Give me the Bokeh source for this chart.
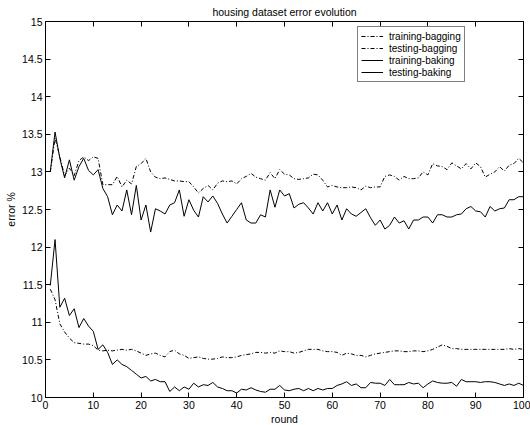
from bokeh.plotting import figure
from bokeh.models import (Range1d, FixedTicker, LinearAxis, Legend, LegendItem,
                          ColumnDataSource)
from bokeh.embed import file_html
from bokeh.resources import INLINE

title_text = "housing dataset error evolution"
x_label = "round"
y_label = "error %"

rounds = list(range(1, 101))

training_bagging = [
    11.44, 11.30, 10.98, 10.87, 10.79, 10.73, 10.72, 10.71, 10.71, 10.69,
    10.63, 10.62, 10.63, 10.62, 10.63, 10.64, 10.63, 10.64, 10.62, 10.59,
    10.56, 10.58, 10.59, 10.56, 10.54, 10.61, 10.63, 10.58, 10.56, 10.52,
    10.53, 10.54, 10.52, 10.51, 10.51, 10.52, 10.54, 10.53, 10.53, 10.54,
    10.56, 10.57, 10.58, 10.60, 10.60, 10.59, 10.60, 10.59, 10.62, 10.61,
    10.61, 10.59, 10.60, 10.62, 10.64, 10.64, 10.64, 10.62, 10.61, 10.61,
    10.60, 10.56, 10.59, 10.58, 10.56, 10.56, 10.54, 10.56, 10.58, 10.59,
    10.60, 10.61, 10.62, 10.62, 10.61, 10.61, 10.62, 10.62, 10.61, 10.62,
    10.64, 10.67, 10.70, 10.68, 10.65, 10.65, 10.64, 10.64, 10.64, 10.64,
    10.64, 10.64, 10.64, 10.64, 10.64, 10.64, 10.65, 10.64, 10.65, 10.64,
]

testing_bagging = [
    13.00, 13.45, 13.20, 12.95, 13.05, 12.95, 13.15, 13.20, 13.15, 13.20,
    13.18, 12.83, 12.83, 12.83, 12.94, 12.80, 12.89, 12.84, 13.07, 13.11,
    13.18, 13.00, 12.93, 12.91, 12.92, 12.90, 12.88, 12.88, 12.87, 12.87,
    12.80, 12.72, 12.78, 12.82, 12.76, 12.85, 12.88, 12.87, 12.88, 12.84,
    12.91, 12.94, 12.98, 12.93, 12.91, 12.89, 12.99, 12.91, 13.03, 12.97,
    12.96, 12.91, 12.90, 12.91, 12.92, 12.97, 12.96, 12.89, 12.80, 12.82,
    12.80, 12.79, 12.79, 12.80, 12.79, 12.76, 12.81, 12.79, 12.80, 12.80,
    12.94, 12.96, 12.94, 12.89, 12.94, 12.91, 12.91, 12.92, 13.00, 12.96,
    13.11, 13.08, 13.07, 13.03, 13.12, 13.08, 13.04, 13.11, 13.04, 13.12,
    13.07, 12.93, 12.97, 13.00, 13.07, 13.01, 13.09, 13.11, 13.18, 13.12,
]

training_baking = [
    11.49, 12.10, 11.20, 11.32, 11.09, 11.18, 10.93, 11.05, 10.95, 10.88,
    10.64, 10.70, 10.60, 10.44, 10.50, 10.44, 10.41, 10.36, 10.31, 10.26,
    10.28, 10.22, 10.24, 10.21, 10.21, 10.08, 10.14, 10.09, 10.14, 10.11,
    10.19, 10.14, 10.17, 10.16, 10.20, 10.14, 10.12, 10.09, 10.09, 10.06,
    10.11, 10.10, 10.13, 10.10, 10.08, 10.07, 10.11, 10.11, 10.16, 10.10,
    10.09, 10.11, 10.12, 10.09, 10.12, 10.09, 10.12, 10.10, 10.12, 10.12,
    10.16, 10.18, 10.21, 10.16, 10.18, 10.13, 10.13, 10.20, 10.19, 10.19,
    10.16, 10.24, 10.17, 10.17, 10.17, 10.20, 10.18, 10.19, 10.13, 10.18,
    10.22, 10.20, 10.19, 10.19, 10.20, 10.15, 10.24, 10.21, 10.21, 10.21,
    10.20, 10.21, 10.21, 10.20, 10.18, 10.16, 10.18, 10.16, 10.19, 10.16,
]

testing_baking = [
    13.00, 13.53, 13.18, 12.92, 13.16, 12.89, 13.07, 13.18, 13.02, 12.96,
    13.03, 12.78, 12.67, 12.43, 12.56, 12.48, 12.76, 12.43, 12.82, 12.36,
    12.56, 12.20, 12.51, 12.48, 12.44, 12.56, 12.59, 12.76, 12.41, 12.63,
    12.49, 12.40, 12.67, 12.60, 12.68, 12.58, 12.44, 12.32, 12.41, 12.50,
    12.59, 12.36, 12.32, 12.32, 12.43, 12.40, 12.76, 12.53, 12.76, 12.68,
    12.71, 12.52, 12.57, 12.59, 12.52, 12.44, 12.59, 12.48, 12.59, 12.44,
    12.56, 12.36, 12.51, 12.44, 12.41, 12.46, 12.51, 12.39, 12.29, 12.36,
    12.24, 12.29, 12.40, 12.32, 12.35, 12.24, 12.36, 12.36, 12.40, 12.40,
    12.32, 12.43, 12.43, 12.40, 12.40, 12.43, 12.44, 12.51, 12.54, 12.48,
    12.47, 12.40, 12.54, 12.48, 12.51, 12.52, 12.63, 12.63, 12.67, 12.67,
]

series_names = ["training-bagging", "testing-bagging", "training-baking", "testing-baking"]

x_ticks = [0, 10, 20, 30, 40, 50, 60, 70, 80, 90, 100]
y_ticks = [10, 10.5, 11, 11.5, 12, 12.5, 13, 13.5, 14, 14.5, 15]
y_tick_labels = ["10", "10.5", "11", "11.5", "12", "12.5", "13", "13.5", "14", "14.5", "15"]

FONT = "Liberation Sans"
FS = "10.5px"

p = figure(frame_width=478, frame_height=376,
           x_range=Range1d(0, 100), y_range=Range1d(10, 15),
           output_backend="svg", toolbar_location=None, title=title_text,
           min_border_left=45, min_border_right=7, min_border_top=20, min_border_bottom=28,
           background_fill_color="white", border_fill_color="white")

p.title.align = "center"
p.title.text_font = FONT
p.title.text_font_size = FS
p.title.text_font_style = "normal"
p.title.text_color = "black"
p.title.standoff = 7

p.xgrid.visible = False
p.ygrid.visible = False
p.outline_line_color = "black"
p.outline_line_width = 1
p.outline_line_alpha = 1

def style_axis(ax):
    ax.major_tick_in = 5
    ax.major_tick_out = 0
    ax.minor_tick_line_color = None
    ax.major_tick_line_color = "black"
    ax.major_tick_line_width = 1
    ax.axis_line_color = "black"
    ax.major_label_text_font = FONT
    ax.major_label_text_font_size = FS
    ax.major_label_text_color = "black"

xa = p.xaxis[0]
xa.ticker = FixedTicker(ticks=x_ticks)
style_axis(xa)
xa.major_label_standoff = 3
xa.axis_label = x_label
xa.axis_label_standoff = 1
xa.axis_label_text_font = FONT
xa.axis_label_text_font_size = FS
xa.axis_label_text_font_style = "normal"
xa.axis_label_text_color = "black"

ya = p.yaxis[0]
ya.ticker = FixedTicker(ticks=y_ticks)
ya.major_label_overrides = {float(t): l for t, l in zip(y_ticks, y_tick_labels)}
style_axis(ya)
ya.major_label_standoff = 3
ya.axis_label = y_label
ya.axis_label_standoff = 2
ya.axis_label_text_font = FONT
ya.axis_label_text_font_size = FS
ya.axis_label_text_font_style = "normal"
ya.axis_label_text_color = "black"

# mirrored ticks on top and right (box on)
top_ax = LinearAxis(ticker=FixedTicker(ticks=x_ticks))
right_ax = LinearAxis(ticker=FixedTicker(ticks=y_ticks))
for ax, ticks in ((top_ax, x_ticks), (right_ax, y_ticks)):
    style_axis(ax)
    ax.axis_line_color = None
    ax.major_label_overrides = {float(t): "" for t in ticks}
    ax.major_label_text_font_size = "1px"
    ax.major_label_standoff = 0
p.add_layout(top_ax, "above")
p.add_layout(right_ax, "right")

src = ColumnDataSource(dict(x=rounds, trb=training_bagging, teb=testing_bagging,
                            trk=training_baking, tek=testing_baking))

DASH = "4 2 1 2"
r1 = p.line("x", "trb", source=src, line_color="black", line_width=1, line_dash=DASH)
r2 = p.line("x", "teb", source=src, line_color="black", line_width=1, line_dash=DASH)
r3 = p.line("x", "trk", source=src, line_color="black", line_width=1)
r4 = p.line("x", "tek", source=src, line_color="black", line_width=1)

legend = Legend(items=[LegendItem(label=n, renderers=[r]) for n, r in
                       zip(series_names, [r1, r2, r3, r4])],
                location=(312, 315))
legend.border_line_color = "black"
legend.border_line_width = 1
legend.background_fill_color = "white"
legend.background_fill_alpha = 1
legend.label_text_font = FONT
legend.label_text_font_size = "10px"
legend.label_text_color = "black"
legend.glyph_width = 22
legend.glyph_height = 12
legend.label_standoff = 6
legend.label_height = 12
legend.padding = 3
legend.spacing = 0
legend.margin = 0
p.add_layout(legend)

open("out.html", "w").write(file_html(p, INLINE))
